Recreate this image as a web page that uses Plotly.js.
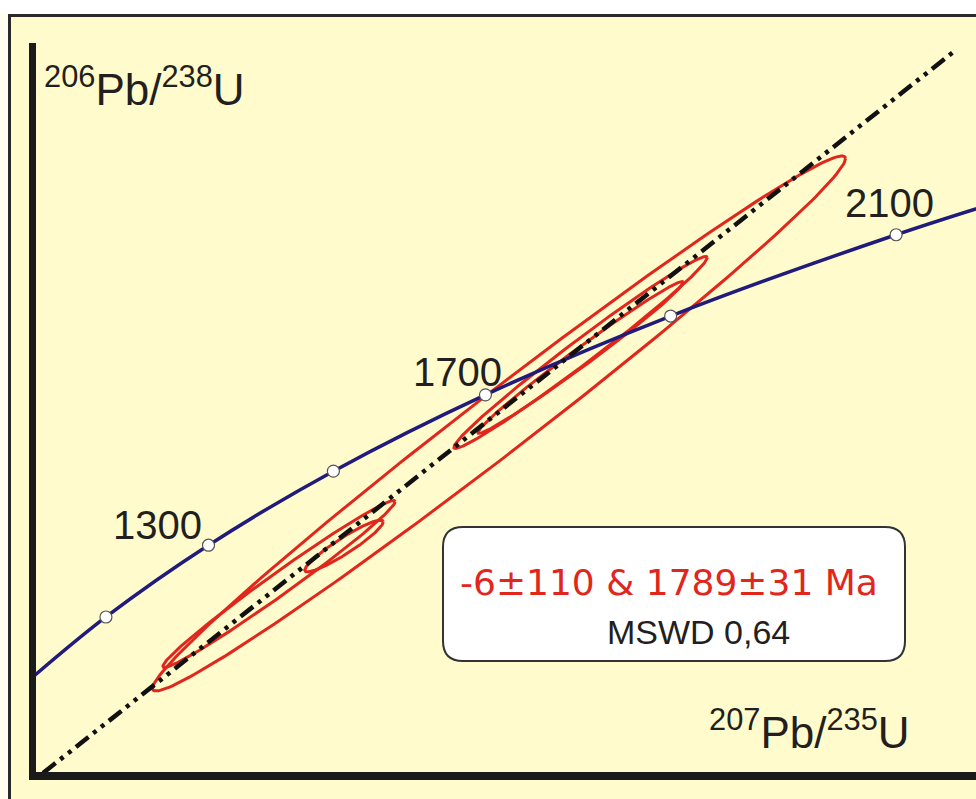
<!DOCTYPE html>
<html>
<head>
<meta charset="utf-8">
<script src="https://cdn.plot.ly/plotly-3.0.1.min.js"></script>
<style>
  html, body { margin: 0; padding: 0; background: #ffffff; }
  #chart { width: 976px; height: 799px; }
</style>
</head>
<body>
<div id="chart"></div>
<script>
// Concordia reference points: age (Ma), 207Pb/235U, 206Pb/238U
const concordiaAges = [900, 1100, 1300, 1500, 1700, 1900, 2100, 2200];
const concordiaX = [1.4263, 1.9545, 2.5978, 3.3810, 4.3348, 5.4962, 6.9104, 7.7292];
const concordiaY = [0.14982, 0.18606, 0.22343, 0.26199, 0.30175, 0.34277, 0.38509, 0.40674];
const markedAges = [1100, 1300, 1500, 1700, 1900, 2100];
const labelledAges = [1300, 1700, 2100];

// Zircon analyses: ratios, error half-widths and error correlation
const ratio207 = [4.4198, 3.0400, 3.4476, 4.9309, 4.9309];
const err207 = [2.1730, 0.7285, 0.2461, 0.7947, 0.6438];
const ratio206 = [0.28681, 0.20324, 0.22302, 0.32378, 0.32118];
const err206 = [0.13931, 0.04346, 0.013482, 0.04998, 0.03950];
const errCorr = [0.98995, 0.98680, 0.9311, 0.98767, 0.98906];

// Discordia line end points
const discordiaX = [1.56, 7.27];
const discordiaY = [0.1048, 0.4803];

// Result box text
const interceptText = '-6±110 & 1789±31 Ma';
const mswdText = 'MSWD 0,64';

// ---- layout geometry ----
const W = 976, H = 799;
const M = { l: 36, r: 0, t: 43, b: 27 };
const plotW = W - M.l - M.r, plotH = H - M.t - M.b;
const px = v => (v - M.l) / plotW;          // page x pixel -> paper
const py = v => (H - M.b - v) / plotH;      // page y pixel -> paper

const ink = '#231f20';
const red = '#e1261c';
const navy = '#211c7c';
const paperYellow = '#fffbcc';

// error ellipses built from ratio, error and correlation
const ex = [], ey = [];
for (let i = 0; i < ratio207.length; i++) {
  const r = errCorr[i], s = Math.sqrt(1 - r * r);
  for (let k = 0; k <= 240; k++) {
    const t = 2 * Math.PI * k / 240;
    const c = Math.cos(t), sn = Math.sin(t);
    ex.push(ratio207[i] + err207[i] * c);
    ey.push(ratio206[i] + err206[i] * (r * c + s * sn));
  }
  ex.push(null); ey.push(null);
}

const pick = (ages, arr) => ages.map(a => arr[concordiaAges.indexOf(a)]);

const traces = [
  {
    x: ex, y: ey, type: 'scatter', mode: 'lines',
    line: { color: red, width: 3 }, hoverinfo: 'skip', connectgaps: false
  },
  {
    x: concordiaX, y: concordiaY, type: 'scatter', mode: 'lines',
    line: { color: navy, width: 3.5, shape: 'spline', smoothing: 1 }, hoverinfo: 'skip'
  },
  {
    x: discordiaX, y: discordiaY, type: 'scatter', mode: 'lines',
    line: { color: '#111111', width: 4.5, dash: '16px,6px,4px,6px,4px,6px' }, hoverinfo: 'skip'
  },
  {
    x: pick(markedAges, concordiaX), y: pick(markedAges, concordiaY),
    type: 'scatter', mode: 'markers',
    marker: { size: 12, color: '#ffffff', line: { color: '#555555', width: 1.2 } },
    hoverinfo: 'skip'
  }
];

// age label placement relative to the concordia point
const labelShift = { 1300: [-51, 20], 1700: [-28, 23], 2100: [-7, 32] };

const annotations = labelledAges.map(a => ({
  x: concordiaX[concordiaAges.indexOf(a)],
  y: concordiaY[concordiaAges.indexOf(a)],
  xref: 'x', yref: 'y', showarrow: false,
  text: String(a),
  xshift: labelShift[a][0], yshift: labelShift[a][1],
  font: { family: 'Liberation Sans, Arial, sans-serif', size: 40, color: ink }
}));

annotations.push(
  {
    xref: 'paper', yref: 'paper', x: px(42), y: py(86), xanchor: 'left', yanchor: 'middle',
    showarrow: false, text: '<sup>206</sup>Pb/<sup>238</sup>U',
    font: { family: 'Liberation Sans, Arial, sans-serif', size: 44, color: ink }
  },
  {
    xref: 'paper', yref: 'paper', x: px(809), y: py(729), xanchor: 'center', yanchor: 'middle',
    showarrow: false, text: '<sup>207</sup>Pb/<sup>235</sup>U',
    font: { family: 'Liberation Sans, Arial, sans-serif', size: 44, color: ink }
  },
  {
    xref: 'paper', yref: 'paper', x: px(669), y: py(582), xanchor: 'center', yanchor: 'middle',
    showarrow: false, text: interceptText,
    font: { family: 'DejaVu Sans, sans-serif', size: 36, color: red }
  },
  {
    xref: 'paper', yref: 'paper', x: px(698), y: py(632), xanchor: 'center', yanchor: 'middle',
    showarrow: false, text: mswdText,
    font: { family: 'Liberation Sans, Arial, sans-serif', size: 34, color: ink }
  }
);

// rounded result box
function roundedBox(x0p, y0p, x1p, y1p, rad) {
  const x0 = px(x0p), x1 = px(x1p), yT = py(y0p), yB = py(y1p);
  const rx = rad / plotW, ry = rad / plotH;
  return `M ${x0 + rx},${yT} L ${x1 - rx},${yT} Q ${x1},${yT} ${x1},${yT - ry} ` +
         `L ${x1},${yB + ry} Q ${x1},${yB} ${x1 - rx},${yB} ` +
         `L ${x0 + rx},${yB} Q ${x0},${yB} ${x0},${yB + ry} ` +
         `L ${x0},${yT - ry} Q ${x0},${yT} ${x0 + rx},${yT} Z`;
}

const shapes = [
  // white strip above the frame
  { type: 'rect', xref: 'paper', yref: 'paper', x0: px(0), x1: px(W), y0: py(14), y1: py(0),
    fillcolor: '#ffffff', line: { width: 0 }, layer: 'above' },
  // pale strip left of the frame
  { type: 'rect', xref: 'paper', yref: 'paper', x0: px(0), x1: px(8), y0: py(H), y1: py(14),
    fillcolor: '#fffef0', line: { width: 0 }, layer: 'above' },
  // frame lines
  { type: 'line', xref: 'paper', yref: 'paper', x0: px(8), x1: px(W), y0: py(15.5), y1: py(15.5),
    line: { color: '#2a2a2a', width: 3 }, layer: 'above' },
  { type: 'line', xref: 'paper', yref: 'paper', x0: px(9.5), x1: px(9.5), y0: py(14), y1: py(H),
    line: { color: '#2a2a2a', width: 3 }, layer: 'above' },
  // result box
  { type: 'path', xref: 'paper', yref: 'paper', path: roundedBox(443, 527, 905, 661, 20),
    fillcolor: '#ffffff', line: { color: '#333333', width: 2 }, layer: 'above' }
];

const axisCommon = {
  showgrid: false, zeroline: false, showticklabels: false, ticks: '',
  showline: true, linecolor: '#1a1a1a', fixedrange: true, automargin: false
};

const layout = {
  width: W, height: H,
  margin: M,
  paper_bgcolor: paperYellow,
  plot_bgcolor: paperYellow,
  showlegend: false,
  xaxis: Object.assign({}, axisCommon, { range: [1.51586, 7.4115], linewidth: 8 }),
  yaxis: Object.assign({}, axisCommon, { range: [0.105338, 0.484947], linewidth: 7 }),
  shapes: shapes,
  annotations: annotations
};

Plotly.newPlot('chart', traces, layout, { displayModeBar: false, staticPlot: true });
</script>
</body>
</html>
